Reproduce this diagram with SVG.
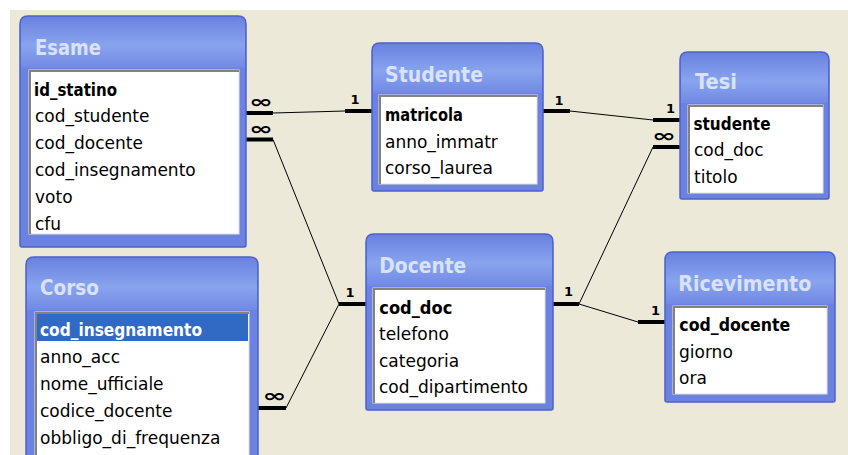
<svg xmlns="http://www.w3.org/2000/svg" width="848" height="455" viewBox="0 0 848 455">
<defs>
<linearGradient id="tg" x1="0" y1="0" x2="0" y2="1">
<stop offset="0" stop-color="#6982e0"/>
<stop offset="0.55" stop-color="#88a4ee"/>
<stop offset="1" stop-color="#7189e4"/>
</linearGradient>
</defs>
<style>
.bg{fill:#ece9d8}
.frame{fill:#6c82e0;stroke:#4e60cc;stroke-width:1.5}
.tbar{fill:url(#tg)}
.title{font-family:"DejaVu Sans Condensed","DejaVu Sans",sans-serif;font-stretch:condensed;font-weight:bold;font-size:22px;fill:#d9e2f9}
.list{fill:#fff;stroke:#e4e1d6;stroke-width:1}
.sunk{fill:none;stroke:#858378;stroke-width:2}
.fld{font-family:"DejaVu Sans",sans-serif;font-size:17px;fill:#000}
.key{font-family:"DejaVu Sans Condensed","DejaVu Sans",sans-serif;font-stretch:condensed;font-weight:bold}
.sel{fill:#316ac5}
.thick{stroke:#000;stroke-width:4;fill:none}
.thin{stroke:#000;stroke-width:1;fill:none}
.card{font-family:"DejaVu Sans",sans-serif;font-weight:bold;font-size:13px;fill:#000;text-anchor:middle}
.inf{font-family:"DejaVu Sans",sans-serif;font-weight:bold;font-size:18px;fill:#000;text-anchor:middle}
</style>
<rect x="0" y="0" width="848" height="455" fill="#ffffff"/>
<rect class="bg" x="10" y="10" width="838" height="445"/>

<g id="connectors">
<path class="thick" d="M246 113H273"/>
<path class="thin" d="M273 113L345 111"/>
<path class="thick" d="M345 111H372"/>
<path class="thick" d="M246 139.5H273"/>
<path class="thin" d="M273 139.5L339 304"/>
<path class="thick" d="M339 304H366"/>
<path class="thick" d="M258 408H286"/>
<path class="thin" d="M286 408L339 304"/>
<path class="thick" d="M543 111H570"/>
<path class="thin" d="M570 111L653 120"/>
<path class="thick" d="M653 120H680"/>
<path class="thick" d="M553 304H579"/>
<path class="thin" d="M579 304L653 147"/>
<path class="thick" d="M653 147H680"/>
<path class="thin" d="M579 304L638 322"/>
<path class="thick" d="M638 322H665"/>
<text class="inf" x="261" y="107.5" textLength="24" lengthAdjust="spacingAndGlyphs">∞</text>
<text class="inf" x="261" y="134.5" textLength="24" lengthAdjust="spacingAndGlyphs">∞</text>
<text class="inf" x="274.5" y="401.5" textLength="24" lengthAdjust="spacingAndGlyphs">∞</text>
<text class="inf" x="664" y="142" textLength="24" lengthAdjust="spacingAndGlyphs">∞</text>
<text class="card" x="355" y="104">1</text>
<text class="card" x="559" y="104.5">1</text>
<text class="card" x="670.5" y="113">1</text>
<text class="card" x="350" y="296.5">1</text>
<text class="card" x="568.5" y="296.2">1</text>
<text class="card" x="655.5" y="315">1</text>
</g>

<g id="Esame">
<path class="frame" d="M20 24Q20 16 28 16H238Q246 16 246 24V245Q246 247 244 247H22Q20 247 20 245Z"/>
<path class="tbar" d="M21 24Q21 17 28 17H238Q245 17 245 24V68H21Z"/>
<rect class="list" x="29" y="70" width="210" height="164"/>
<path class="sunk" d="M30 234V71H239"/>
<text class="title" x="35" y="55" textLength="66" lengthAdjust="spacingAndGlyphs">Esame</text>
<text class="fld key" x="34" y="95.5" textLength="83" lengthAdjust="spacingAndGlyphs">id_statino</text>
<text class="fld" x="35" y="122.3">cod_studente</text>
<text class="fld" x="35" y="149.1">cod_docente</text>
<text class="fld" x="35" y="175.9">cod_insegnamento</text>
<text class="fld" x="35" y="202.7">voto</text>
<text class="fld" x="35" y="229.5">cfu</text>
</g>

<g id="Corso">
<path class="frame" d="M26 265Q26 257 34 257H250Q258 257 258 265V470H26Z"/>
<path class="tbar" d="M27 265Q27 258 34 258H250Q257 258 257 265V310H27Z"/>
<rect class="list" x="35" y="312" width="214" height="160"/>
<path class="sunk" d="M36 460V313H249"/>
<rect class="sel" x="37" y="314" width="211" height="27"/>
<text class="title" x="40" y="295" textLength="59" lengthAdjust="spacingAndGlyphs">Corso</text>
<text class="fld key" x="40" y="336" style="fill:#fff" textLength="162" lengthAdjust="spacingAndGlyphs">cod_insegnamento</text>
<text class="fld" x="40" y="363.3">anno_acc</text>
<text class="fld" x="40" y="390">nome_ufficiale</text>
<text class="fld" x="40" y="416.7">codice_docente</text>
<text class="fld" x="40" y="444">obbligo_di_frequenza</text>
</g>

<g id="Studente">
<path class="frame" d="M372 51Q372 43 380 43H535Q543 43 543 51V189Q543 191 541 191H374Q372 191 372 189Z"/>
<path class="tbar" d="M373 51Q373 44 380 44H535Q542 44 542 51V93H373Z"/>
<rect class="list" x="379" y="95" width="158" height="89"/>
<path class="sunk" d="M380 184V96H537"/>
<text class="title" x="385" y="81.7" textLength="98" lengthAdjust="spacingAndGlyphs">Studente</text>
<text class="fld key" x="385" y="121" textLength="78" lengthAdjust="spacingAndGlyphs">matricola</text>
<text class="fld" x="385" y="147.7">anno_immatr</text>
<text class="fld" x="385" y="174.4">corso_laurea</text>
</g>

<g id="Tesi">
<path class="frame" d="M680 60Q680 52 688 52H821Q829 52 829 60V197Q829 199 827 199H682Q680 199 680 197Z"/>
<path class="tbar" d="M681 60Q681 53 688 53H821Q828 53 828 60V103H681Z"/>
<rect class="list" x="688" y="105" width="135" height="88"/>
<path class="sunk" d="M689 193V106H823"/>
<text class="title" x="695" y="89.3" textLength="42" lengthAdjust="spacingAndGlyphs">Tesi</text>
<text class="fld key" x="693.5" y="129.5" textLength="77" lengthAdjust="spacingAndGlyphs">studente</text>
<text class="fld" x="694" y="156">cod_doc</text>
<text class="fld" x="694" y="182.7">titolo</text>
</g>

<g id="Docente">
<path class="frame" d="M366 242Q366 234 374 234H545Q553 234 553 242V408Q553 410 551 410H368Q366 410 366 408Z"/>
<path class="tbar" d="M367 242Q367 235 374 235H545Q552 235 552 242V286H367Z"/>
<rect class="list" x="373" y="288" width="172" height="115"/>
<path class="sunk" d="M374 403V289H545"/>
<text class="title" x="379.3" y="272.7" textLength="87" lengthAdjust="spacingAndGlyphs">Docente</text>
<text class="fld key" x="379.3" y="314" textLength="73" lengthAdjust="spacingAndGlyphs">cod_doc</text>
<text class="fld" x="379" y="340">telefono</text>
<text class="fld" x="379" y="366.7">categoria</text>
<text class="fld" x="379" y="393.3">cod_dipartimento</text>
</g>

<g id="Ricevimento">
<path class="frame" d="M665 260Q665 252 673 252H827Q835 252 835 260V400Q835 402 833 402H667Q665 402 665 400Z"/>
<path class="tbar" d="M666 260Q666 253 673 253H827Q834 253 834 260V304H666Z"/>
<rect class="list" x="673" y="306" width="154" height="88"/>
<path class="sunk" d="M674 394V307H827"/>
<text class="title" x="678.3" y="291" textLength="133" lengthAdjust="spacingAndGlyphs">Ricevimento</text>
<text class="fld key" x="679.3" y="330.7" textLength="111" lengthAdjust="spacingAndGlyphs">cod_docente</text>
<text class="fld" x="679" y="357.5">giorno</text>
<text class="fld" x="679" y="384">ora</text>
</g>
</svg>
